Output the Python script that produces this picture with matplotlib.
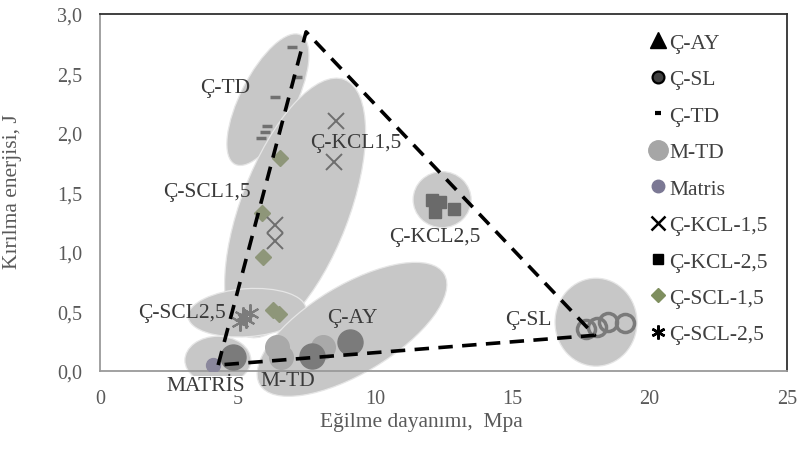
import matplotlib
matplotlib.use("Agg")
import matplotlib.pyplot as plt
from matplotlib.patches import Ellipse
from matplotlib.lines import Line2D
from matplotlib.transforms import ScaledTranslation

# --- values ---
td_x = [6.98, 7.16, 6.36, 6.07, 6.00, 5.85]          # Ç-TD
td_y = [2.72, 2.47, 2.30, 2.06, 2.01, 1.96]
scl15_x = [6.55, 5.90, 5.93, 6.30, 6.50]               # Ç-SCL-1,5
scl15_y = [1.79, 1.33, 0.96, 0.51, 0.48]
kcl15_x = [8.60, 8.50, 6.36, 6.36]                     # Ç-KCL-1,5
kcl15_y = [2.10, 1.76, 1.23, 1.09]
scl25_x = [5.10, 5.20, 5.45, 5.30]                     # Ç-SCL-2,5
scl25_y = [0.41, 0.46, 0.49, 0.44]
kcl25_x = [12.08, 12.37, 12.20, 12.88]                 # Ç-KCL-2,5
kcl25_y = [1.44, 1.42, 1.34, 1.36]
sl_x = [17.7, 18.1, 18.5, 19.1]                        # Ç-SL
sl_y = [0.35, 0.37, 0.41, 0.40]
mtd_x = [6.45, 6.60, 8.10]                             # M-TD
mtd_y = [0.20, 0.12, 0.20]
ay_x = [4.85, 7.70, 9.10]                              # Ç-AY
ay_y = [0.12, 0.13, 0.24]
matris_x = [4.10]                                      # Matris
matris_y = [0.05]

# dashed envelope
tri_x = [4.3, 7.5, 18.0, 4.3]
tri_y = [0.05, 2.85, 0.30, 0.05]

x_ticks = [0, 5, 10, 15, 20, 25]
y_ticks = [0.0, 0.5, 1.0, 1.5, 2.0, 2.5, 3.0]

# group labels: text, x, y
group_labels = [
    ("Ç-TD", 4.55, 2.38),
    ("Ç-KCL1,5", 9.3, 1.92),
    ("Ç-SCL1,5", 3.9, 1.51),
    ("Ç-SCL2,5", 3.0, 0.49),
    ("M-TD", 6.85, -0.08),
    ("Ç-AY", 9.2, 0.45),
    ("Ç-KCL2,5", 12.2, 1.13),
    ("Ç-SL", 15.6, 0.43),
]

# shaded groups: center x, center y (data), width, height (px), angle
groups = [
    (6.11, 2.28, 145, 55, 63),
    (7.10, 1.37, 275, 108, 69),
    (5.35, 0.49, 118, 48, 4),
    (9.17, 0.35, 215, 88, 31),
    (4.29, 0.09, 66, 48, 0),
    (12.45, 1.44, 58, 56, 0),
    (18.05, 0.41, 82, 88, 0),
]

plt.rcParams['font.family'] = ['Liberation Serif', 'DejaVu Serif']

fig = plt.figure(figsize=(7.99, 4.60), dpi=100)
ax = fig.add_axes([100 / 799, (460 - 372) / 460, 687 / 799, 357 / 460])

for cx, cy, w, h, ang in groups:
    tr = fig.dpi_scale_trans + ScaledTranslation(cx, cy, ax.transData)
    e = Ellipse((0, 0), w / 100, h / 100, angle=ang, transform=tr,
                facecolor='#c7c7c7', edgecolor='#e6e6e6', linewidth=0.9,
                zorder=1, clip_on=False)
    ax.add_patch(e)

ax.plot(td_x, td_y, ls='none', marker='_', ms=7, mew=2.5, color='#707070', zorder=3)
ax.plot(scl15_x, scl15_y, ls='none', marker='D', ms=8, color='#8e9679', zorder=3)
ax.plot(kcl15_x, kcl15_y, ls='none', marker='x', ms=12, mew=1.4, color='#6e6e6e', zorder=3)
ax.plot(scl25_x, scl25_y, ls='none', marker=(6, 2, 0), ms=13, mew=1.5, color='#7c7c7c', zorder=3)
ax.plot(kcl25_x, kcl25_y, ls='none', marker='s', ms=8, color='#6a6a6a', zorder=3)
ax.plot(sl_x, sl_y, ls='none', marker='o', ms=13, mfc='none', mec='#7a7a7a', mew=2.5, zorder=3)
ax.plot(mtd_x, mtd_y, ls='none', marker='o', ms=17, color='#a9a9a9', zorder=3)
ax.plot(ay_x, ay_y, ls='none', marker='o', ms=18, color='#7b7b7b', zorder=3)
ax.plot(matris_x, matris_y, ls='none', marker='o', ms=10, color='#8a879c', zorder=3)

ax.plot(tri_x, tri_y, color='black', lw=2.6, ls=(0, (4, 2.6)), zorder=4,
        solid_capstyle='butt', dash_capstyle='butt', clip_on=False)

for txt, tx, ty in group_labels:
    ax.text(tx, ty, txt, fontsize=15.5, color='#3a3a3a', ha='center', va='center', zorder=5)

# the matrix label sits over the "5" tick label, as in the original
ax.text(3.85, -0.12, "MATRİS", fontsize=15.5, color='#3a3a3a', ha='center', va='center',
        zorder=5, bbox=dict(facecolor='white', edgecolor='none', pad=0))

ax.set_xlim(0, 25)
ax.set_ylim(0, 3.0)
ax.set_xticks(x_ticks)
ax.set_xticklabels([str(v) for v in x_ticks])
ax.set_yticks(y_ticks)
ax.set_yticklabels([f"{v:.1f}".replace('.', ',') for v in y_ticks])
ax.tick_params(length=0, labelsize=14.5, labelcolor='#595959')
ax.tick_params(axis='x', pad=13)
ax.tick_params(axis='y', pad=13)

for s in ['left', 'bottom']:
    ax.spines[s].set_color('#9a9a9a')
    ax.spines[s].set_linewidth(1.3)
for s in ['top', 'right']:
    ax.spines[s].set_color('#303030')
    ax.spines[s].set_linewidth(1.3)

ax.set_xlabel("Eğilme dayanımı,  Mpa", fontsize=15.5, color='#595959')
ax.xaxis.set_label_coords((421 - 100) / 687, -0.115)
ax.set_ylabel("Kırılma enerjisi, J", fontsize=15.5, color='#595959')
ax.yaxis.set_label_coords(-0.1135, 0.504)

handles = [
    Line2D([], [], ls='none', marker='^', ms=12, color='black'),
    Line2D([], [], ls='none', marker='o', ms=8.5, mfc='#404040', mec='black', mew=1.6),
    Line2D([], [], ls='none', marker='_', ms=5, mew=3, color='black'),
    Line2D([], [], ls='none', marker='o', ms=14, color='#a6a6a6'),
    Line2D([], [], ls='none', marker='o', ms=9, color='#7b7894'),
    Line2D([], [], ls='none', marker='x', ms=10, mew=1.8, color='black'),
    Line2D([], [], ls='none', marker='s', ms=7, color='black'),
    Line2D([], [], ls='none', marker='D', ms=7, color='#7f8f5f'),
    Line2D([], [], ls='none', marker=(6, 2, 0), ms=10, mew=1.8, color='black'),
]
labels = ["Ç-AY", "Ç-SL", "Ç-TD", "M-TD", "Matris",
          "Ç-KCL-1,5", "Ç-KCL-2,5", "Ç-SCL-1,5", "Ç-SCL-2,5"]
leg = ax.legend(handles, labels, loc='upper left', bbox_to_anchor=(0.800, 0.947),
                frameon=False, fontsize=15.5, handlelength=0.8, handletextpad=0.12,
                labelspacing=0.76, borderpad=0, borderaxespad=0)
for t in leg.get_texts():
    t.set_color('#404040')

fig.savefig("out.png", dpi=100)
